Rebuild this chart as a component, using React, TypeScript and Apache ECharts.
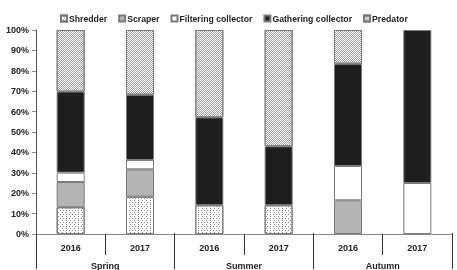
import React, { useEffect, useRef } from "react";
import * as echarts from "echarts";

const years = ["2016", "2017", "2016", "2017", "2016", "2017"];
const seasons = ["Spring", "Summer", "Autumn"];

const shredder = [13.1, 18.3, 14.1, 14.1, 0, 0];
const scraper = [12.4, 13.4, 0, 0, 16.5, 0];
const filtering = [4.6, 4.6, 0, 0, 16.8, 25];
const gathering = [39.7, 32.0, 43.1, 28.9, 50.2, 75];
const predator = [30.2, 31.7, 42.8, 57.0, 16.5, 0];

const FONT = "Liberation Sans, Arial, sans-serif";

export default function App() {
  const ref = useRef<HTMLDivElement>(null);

  useEffect(() => {
    if (!ref.current) return;
    const chart = echarts.init(ref.current, null, { renderer: "svg" });

    // fine stippled fill for shredders
    const dotDecal = {
      symbol: "rect",
      symbolSize: 1,
      dashArrayX: [[1, 2], [0, 1.5, 1, 0.5]],
      dashArrayY: [1, 1],
      color: "#8a8a8a",
      backgroundColor: "#ffffff",
    };
    // checkered hatch fill for predators
    const hatchDecal = {
      symbol: "rect",
      symbolSize: 1,
      dashArrayX: [[1, 1], [0, 1, 1, 0]],
      dashArrayY: [1, 0],
      color: "#a0a0a0",
      backgroundColor: "#ffffff",
    };

    const toData = (arr: number[]) => arr.map((v) => (v === 0 ? "-" : v));

    const mk = (name: string, data: number[], color: string, decal?: any) => ({
      name,
      type: "bar",
      stack: "total",
      barWidth: 28,
      data: toData(data),
      itemStyle: {
        color,
        borderColor: "#7a7a7a",
        borderWidth: 1,
        ...(decal ? { decal } : {}),
      },
    });

    const labelFont = {
      fontFamily: FONT,
      fontWeight: "bold" as const,
      fontSize: 9,
      color: "#222",
    };

    chart.setOption({
      animation: false,
      legend: {
        top: 9,
        left: 55,
        itemWidth: 6,
        itemHeight: 6,
        itemGap: 11,
        icon: "rect",
        textStyle: { ...labelFont, fontSize: 8.7, padding: [0, 0, 0, -3] },
      },
      grid: [
        { left: 36, right: 5, top: 30, bottom: 36 },
        { left: 36, right: 5, top: 30, bottom: 36 },
      ],
      xAxis: [
        {
          type: "category",
          gridIndex: 0,
          data: years,
          axisLine: { lineStyle: { color: "#8a8a8a", width: 1 } },
          axisTick: { show: true, interval: 0, length: 21, lineStyle: { color: "#333" } },
          axisLabel: { interval: 0, margin: 9, ...labelFont },
        },
        {
          type: "category",
          gridIndex: 1,
          position: "bottom",
          data: seasons,
          axisLine: { show: false },
          axisTick: { show: true, interval: 0, length: 36, lineStyle: { color: "#333" } },
          axisLabel: { interval: 0, margin: 28, ...labelFont },
        },
      ],
      yAxis: [
        {
          type: "value",
          gridIndex: 0,
          min: 0,
          max: 100,
          interval: 10,
          splitLine: { show: false },
          axisLine: { show: true, lineStyle: { color: "#555" } },
          axisTick: { show: true, length: 4, lineStyle: { color: "#8a8a8a" } },
          axisLabel: { formatter: "{value}%", margin: 7, ...labelFont },
        },
        { type: "value", gridIndex: 1, show: false, min: 0, max: 100 },
      ],
      series: [
        mk("Shredder", shredder, "#ffffff", dotDecal),
        mk("Scraper", scraper, "#b4b4b4"),
        mk("Filtering collector", filtering, "#ffffff"),
        mk("Gathering collector", gathering, "#1e1e1e"),
        mk("Predator", predator, "#ffffff", hatchDecal),
      ],
    });

    return () => chart.dispose();
  }, []);

  return (
    <div
      ref={ref}
      style={{ position: "fixed", left: 0, top: 0, width: 457, height: 270 }}
    />
  );
}
